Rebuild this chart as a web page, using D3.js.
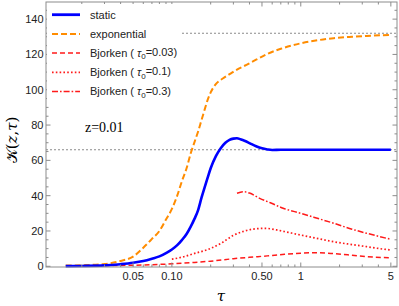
<!DOCTYPE html>
<html lang="en">
<head>
<meta charset="UTF-8">
<title>K(z,tau) vs tau</title>
<script src="https://d3js.org/d3.v7.min.js"></script>
<style>
  body { margin: 0; background: #fff; }
  text { font-family: "Liberation Sans", Arial, Helvetica, sans-serif; }
</style>
</head>
<body>
<div id="chart"></div>
<script>
// ---- data ----
const staticTau = [0.015, 0.02, 0.03, 0.04, 0.05, 0.06, 0.07, 0.08, 0.09, 0.10, 0.11, 0.12, 0.13, 0.14, 0.15, 0.16, 0.17, 0.18, 0.19, 0.20, 0.22, 0.24, 0.26, 0.28, 0.30, 0.32, 0.34, 0.37, 0.40, 0.45, 0.50, 0.55, 0.60, 0.70, 0.80, 1.0, 1.5, 2, 3, 4, 5];
const staticK   = [0.1, 0.2, 0.5, 1.2, 2.0, 3.0, 4.3, 5.6, 7.5, 9.5, 12, 15, 18.3, 22.5, 27, 32, 39, 45, 50.5, 55.5, 62.5, 67, 70, 71.6, 72.3, 72.5, 72, 71, 69.8, 68, 66.8, 66.2, 65.9, 66, 66, 66, 66, 66, 66, 66, 66];

const expTau = [0.015, 0.02, 0.03, 0.04, 0.05, 0.06, 0.07, 0.08, 0.09, 0.10, 0.11, 0.12, 0.13, 0.14, 0.15, 0.16, 0.17, 0.18, 0.19, 0.20, 0.22, 0.25, 0.28, 0.33, 0.36, 0.45, 0.55, 0.70, 1.0, 1.4, 1.8, 2.5, 3.25, 5];
const expK   = [0.4, 0.6, 1.3, 3.0, 5.5, 10.5, 15.5, 20, 26.5, 32.5, 40, 48.5, 55.5, 64, 70.5, 76.5, 83, 89, 94.5, 98.5, 103.3, 106.5, 108.8, 112, 113.3, 117, 120.3, 123.2, 126.3, 128.2, 129.2, 130, 130.5, 131];

const bj003Tau = [0.03, 0.05, 0.07, 0.10, 0.15, 0.20, 0.30, 0.40, 0.55, 0.75, 1.0, 1.3, 1.8, 2.5, 3.25, 5];
const bj003K   = [0.4, 0.6, 0.9, 1.4, 2.2, 2.9, 4.3, 5.1, 5.9, 6.8, 7.4, 7.7, 7.2, 6.3, 5.5, 4.8];

const bj01Tau = [0.10, 0.12, 0.15, 0.19, 0.24, 0.30, 0.36, 0.43, 0.53, 0.65, 0.80, 1.0, 1.4, 1.8, 2.5, 3.25, 4, 5];
const bj01K   = [4, 5.2, 7.3, 9.5, 13, 17.5, 19.8, 21.1, 21.5, 20.6, 19.2, 17.7, 15.5, 13.9, 12.3, 11.1, 10.1, 9.2];

const bj03Tau = [0.32, 0.36, 0.40, 0.48, 0.58, 0.73, 1.0, 1.4, 1.8, 2.5, 3.25, 4, 5];
const bj03K   = [41.4, 42.2, 41.5, 38.5, 36, 32.9, 30, 26.8, 24.4, 21, 18.7, 17, 15.3];

const refLevels = [66, 132];
const seriesNames = ["static", "exponential", "Bjorken", "Bjorken", "Bjorken"];
const tau0Labels = [null, null, "0.03", "0.1", "0.3"];

const xTickValues = [0.05, 0.1, 0.5, 1, 5];
const xTickLabels = ["0.05", "0.10", "0.50", "1", "5"];
const yTickValues = [0, 20, 40, 60, 80, 100, 120, 140];

// ---- layout ----
const W = 399, H = 306;
const pL = 46, pR = 397, pT = 2, pB = 267;

const x = d3.scaleLog().domain([0.01055, 5.58]).range([pL, pR]);
const y = d3.scaleLinear().domain([-0.4, 149.7]).range([pB, pT]);

const svg = d3.select("#chart").append("svg")
  .attr("width", W).attr("height", H);

const styles = [
  { color: "#0000ff", width: 2.6, dash: null },
  { color: "#ff8c00", width: 2.0, dash: "6,3" },
  { color: "#ff1a1a", width: 1.5, dash: "5,3" },
  { color: "#ff1a1a", width: 1.7, dash: "1.6,2.2" },
  { color: "#ff1a1a", width: 1.5, dash: "6,2,1.6,2" }
];

const series = [
  d3.zip(staticTau, staticK),
  d3.zip(expTau, expK),
  d3.zip(bj003Tau, bj003K),
  d3.zip(bj01Tau, bj01K),
  d3.zip(bj03Tau, bj03K)
];

// reference levels (gray dotted)
svg.selectAll("line.ref")
  .data(refLevels)
  .join("line")
    .attr("class", "ref")
    .attr("x1", pL).attr("x2", pR)
    .attr("y1", d => y(d)).attr("y2", d => y(d))
    .attr("stroke", "#8a8a8a")
    .attr("stroke-width", 1.1)
    .attr("stroke-dasharray", "2,2");

const line = d3.line()
  .x(d => x(d[0]))
  .y(d => y(d[1]))
  .curve(d3.curveMonotoneX);

// draw red ones first, then orange, then blue on top
[4, 3, 2, 1, 0].forEach(i => {
  svg.append("path")
    .datum(series[i])
    .attr("d", line)
    .attr("fill", "none")
    .attr("stroke", styles[i].color)
    .attr("stroke-width", styles[i].width)
    .attr("stroke-dasharray", styles[i].dash);
});

// frame
const frameColor = "#8c8c8c";
svg.append("rect")
  .attr("x", pL).attr("y", pT)
  .attr("width", pR - pL).attr("height", pB - pT)
  .attr("fill", "none")
  .attr("stroke", frameColor)
  .attr("stroke-width", 1);

// y ticks (left + right, inward)
const yMinor = d3.range(0, 150, 5);
yMinor.forEach(v => {
  const major = v % 20 === 0;
  const len = major ? 4.5 : 2.5;
  svg.append("line").attr("x1", pL).attr("x2", pL + len)
    .attr("y1", y(v)).attr("y2", y(v)).attr("stroke", frameColor);
  svg.append("line").attr("x1", pR).attr("x2", pR - len)
    .attr("y1", y(v)).attr("y2", y(v)).attr("stroke", frameColor);
});
svg.selectAll("text.ylab")
  .data(yTickValues)
  .join("text")
    .attr("class", "ylab")
    .attr("x", pL - 2.5)
    .attr("y", d => y(d))
    .attr("dy", "0.36em")
    .attr("text-anchor", "end")
    .attr("font-size", 11)
    .attr("fill", "#222")
    .text(d => d);

// x ticks (log minor ticks, bottom + top, inward)
const xMinor = [];
[0.01, 0.1, 1].forEach(dec => {
  for (let k = 1; k <= 9; k++) {
    const v = dec * k;
    if (v >= x.domain()[0] && v <= x.domain()[1]) xMinor.push(v);
  }
});
xMinor.forEach(v => {
  const major = xTickValues.some(t => Math.abs(t - v) < 1e-9);
  const len = major ? 4.5 : 2.5;
  svg.append("line").attr("x1", x(v)).attr("x2", x(v))
    .attr("y1", pB).attr("y2", pB - len).attr("stroke", frameColor);
  svg.append("line").attr("x1", x(v)).attr("x2", x(v))
    .attr("y1", pT).attr("y2", pT + len).attr("stroke", frameColor);
});
svg.selectAll("text.xlab")
  .data(xTickValues)
  .join("text")
    .attr("class", "xlab")
    .attr("x", d => x(d))
    .attr("y", pB + 13)
    .attr("text-anchor", "middle")
    .attr("font-size", 11)
    .attr("fill", "#222")
    .text((d, i) => xTickLabels[i]);

// axis titles
svg.append("text")
  .attr("x", 221).attr("y", 301)
  .attr("text-anchor", "middle")
  .attr("font-size", 15)
  .attr("font-style", "italic")
  .style("font-family", "'DejaVu Serif', 'Liberation Serif', serif")
  .text("τ");

const ylab = svg.append("text")
  .attr("transform", "translate(17,140) rotate(-90)")
  .attr("text-anchor", "middle")
  .attr("font-size", 15)
  .style("font-family", "'DejaVu Serif', 'Liberation Serif', serif");
ylab.append("tspan").text("𝒦(");
ylab.append("tspan").attr("font-style", "italic").text("z");
ylab.append("tspan").text(",");
ylab.append("tspan").attr("font-style", "italic").text("τ");
ylab.append("tspan").text(")");

// annotation
svg.append("text")
  .attr("x", 85).attr("y", 132)
  .attr("font-size", 14)
  .style("font-family", "'Liberation Serif', 'Times New Roman', serif")
  .text("z=0.01");

// legend with white background
svg.append("rect")
  .attr("x", pL + 1).attr("y", pT + 2)
  .attr("width", 135).attr("height", 98)
  .attr("fill", "#fff");

const leg = svg.append("g");
const rowY = i => 14.7 + i * 19.2;
seriesNames.forEach((name, i) => {
  leg.append("line")
    .attr("x1", 52).attr("x2", 80)
    .attr("y1", rowY(i)).attr("y2", rowY(i))
    .attr("stroke", styles[i].color)
    .attr("stroke-width", i === 0 ? 2.8 : styles[i].width)
    .attr("stroke-dasharray", styles[i].dash);
  const t = leg.append("text")
    .attr("x", 90).attr("y", rowY(i))
    .attr("dy", "0.36em")
    .attr("font-size", 11)
    .attr("fill", "#222");
  t.append("tspan").text(name);
  if (tau0Labels[i]) {
    t.append("tspan").text(" ( ");
    t.append("tspan").attr("font-style", "italic").text("τ");
    t.append("tspan").attr("font-size", 8).attr("dy", "0.3em").text("0");
    t.append("tspan").attr("dy", "-0.3em").text("=" + tau0Labels[i] + ")");
  }
});
</script>
</body>
</html>
